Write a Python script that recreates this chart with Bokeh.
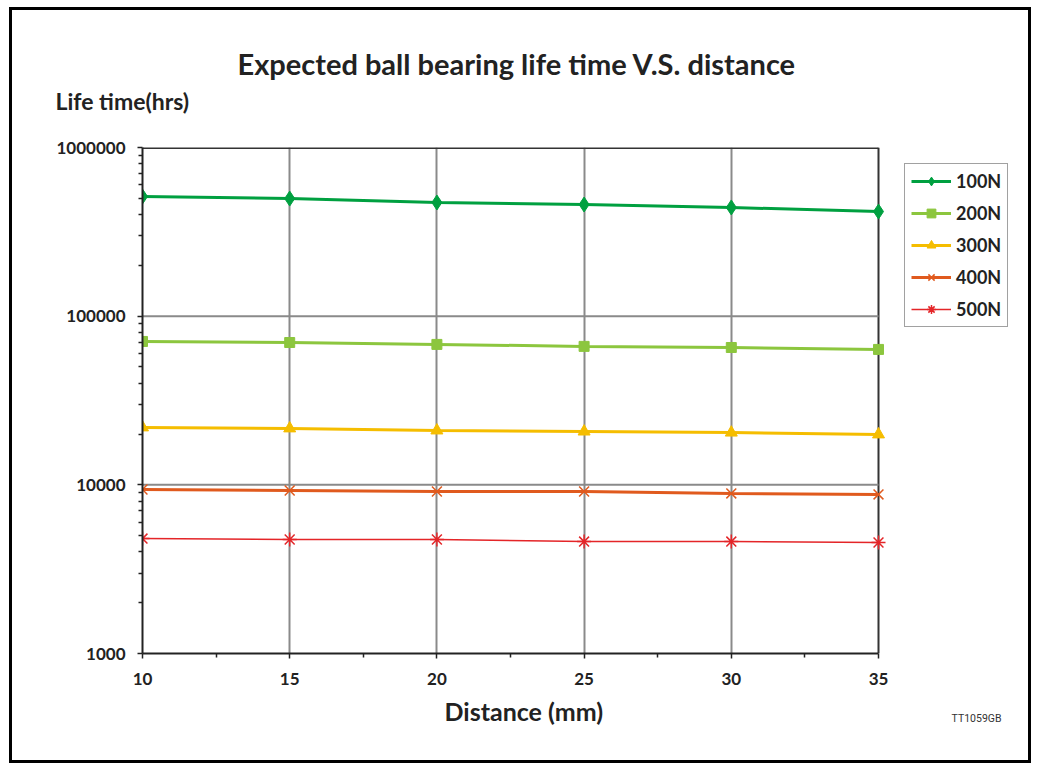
from bokeh.plotting import figure
from bokeh.models import (FixedTicker, CustomJSTickFormatter, Legend, LegendItem,
                          Title, Range1d, Grid)
from bokeh.layouts import column
from bokeh.embed import file_html
from bokeh.resources import INLINE

distance = [10, 15, 20, 25, 30, 35]
life_100N = [512000, 498000, 472000, 459000, 441000, 417000]
life_200N = [70800, 69800, 68000, 66200, 65200, 63500]
life_300N = [21900, 21600, 21000, 20700, 20400, 19900]
life_400N = [9380, 9250, 9130, 9130, 8890, 8770]
life_500N = [4800, 4740, 4740, 4610, 4610, 4550]
series_names = ["100N", "200N", "300N", "400N", "500N"]
x_ticks = [10, 15, 20, 25, 30, 35]
x_minor = [12.5, 17.5, 22.5, 27.5, 32.5]
y_ticks = [1000, 10000, 100000, 1000000]

FONT = "Lato"

# plotting area is 736 px wide for 10..35; the frame is extended to the right
# so that the legend (outside the plotting area) can live inside the canvas frame
PLOT_W = 736
FRAME_W = 875
x_end = 10 + 25 * FRAME_W / PLOT_W

p = figure(frame_width=FRAME_W, frame_height=506, y_axis_type="log",
           x_range=Range1d(10, x_end), y_range=Range1d(1000, 1000000),
           output_backend="svg", toolbar_location=None, title=None,
           min_border_left=130, min_border_right=11, min_border_top=137,
           min_border_bottom=107, background_fill_color="white",
           border_fill_color="white")

p.outline_line_color = None

# vertical interior grid lines
p.xgrid.ticker = FixedTicker(ticks=x_ticks[1:-1])
p.xgrid.grid_line_color = "#8a8a8a"
p.xgrid.grid_line_width = 2
# horizontal grid lines limited to the plotting area (10..35)
p.ygrid.visible = False
h_lines = y_ticks[1:-1]
p.segment(x0=[x_ticks[0]] * len(h_lines), x1=[x_ticks[-1]] * len(h_lines),
          y0=h_lines, y1=h_lines, line_color="#8a8a8a", line_width=2)
# darker border lines on top / right of the plotting area
p.segment(x0=[x_ticks[0]], x1=[x_ticks[-1]], y0=[y_ticks[-1]], y1=[y_ticks[-1]],
          line_color="#333333", line_width=3)
right_edge = Grid(dimension=0, ticker=FixedTicker(ticks=[x_ticks[-1]]),
                  grid_line_color="#333333", grid_line_width=2)
p.add_layout(right_edge)

y_minor = [k * 10 ** d for d in range(3, 6) for k in range(2, 10)]
p.xaxis.ticker = FixedTicker(ticks=x_ticks, minor_ticks=x_minor)
p.yaxis.ticker = FixedTicker(ticks=y_ticks, minor_ticks=y_minor)
p.yaxis.formatter = CustomJSTickFormatter(code="return tick.toFixed(0)")
p.xaxis.bounds = (10, 35)

for ax in (p.xaxis, p.yaxis):
    ax.axis_line_color = "#222222"
    ax.axis_line_width = 2
    ax.major_tick_line_color = "#222222"
    ax.major_tick_line_width = 1.5
    ax.major_tick_out = 5
    ax.major_tick_in = 0
    ax.minor_tick_line_color = "#222222"
    ax.minor_tick_line_width = 1.5
    ax.minor_tick_out = 4
    ax.minor_tick_in = 0
    ax.major_label_text_font = FONT
    ax.major_label_text_font_style = "bold"
    ax.major_label_text_font_size = "17px"
    ax.major_label_text_color = "#222222"

p.yaxis.major_label_standoff = 12
p.xaxis.major_label_standoff = 14

colors = ["#00A040", "#8CC63E", "#F5BD00", "#E05A1E", "#E42528"]
markers = ["diamond", "square", "triangle", "x", "asterisk"]
sizes = [15, 10, 12, 14, 14]
widths = [3, 3, 3, 3, 1.5]
data = [life_100N, life_200N, life_300N, life_400N, life_500N]

items = []
for name, ys, c, m, s, w in zip(series_names, data, colors, markers, sizes, widths):
    l = p.line(distance, ys, line_color=c, line_width=w)
    if m in ("x", "asterisk"):
        sc = p.scatter(distance, ys, marker=m, size=s, line_color=c, line_width=1.5)
    else:
        sc = p.scatter(distance, ys, marker=m, size=s, fill_color=c, line_color=c)
    items.append(LegendItem(label=name, renderers=[l, sc]))

legend = Legend(items=items, location=(762, 326))
legend.margin = 0
legend.padding = 6
legend.spacing = 10
legend.glyph_width = 40
legend.glyph_height = 22
legend.label_height = 22
legend.label_standoff = 5
legend.label_text_font = FONT
legend.label_text_font_style = "bold"
legend.label_text_font_size = "18px"
legend.label_text_color = "#222222"
legend.border_line_color = "#444444"
legend.border_line_width = 1.5
p.add_layout(legend)

# spacer between frame and the axis caption
spacer = Title(text=" ", standoff=30, text_font_size="1px")
p.add_layout(spacer, "above")
sub = Title(text="Life time(hrs)", align="left", offset=-87, standoff=0,
            text_font=FONT, text_font_style="bold", text_font_size="23px",
            text_color="#222222")
p.add_layout(sub, "above")
main = Title(text="Expected ball bearing life time V.S. distance", align="left",
             offset=95, standoff=7, text_font=FONT, text_font_style="bold",
             text_font_size="29px", text_color="#222222")
p.add_layout(main, "above")

xlabel = Title(text="Distance (mm)", align="left", offset=302, standoff=16,
               vertical_align="top", text_font=FONT, text_font_style="bold",
               text_font_size="25px", text_color="#222222")
p.add_layout(xlabel, "below")
tag = Title(text="TT1059GB", align="right", offset=16, standoff=-48,
            vertical_align="top", text_font="Roboto",
            text_font_style="normal", text_font_size="10.5px", text_color="#333333")
p.add_layout(tag, "below")

layout = column(p, styles={"border": "3px solid black"}, margin=(7, 0, 0, 9))

open("out.html", "w").write(file_html(layout, INLINE))
